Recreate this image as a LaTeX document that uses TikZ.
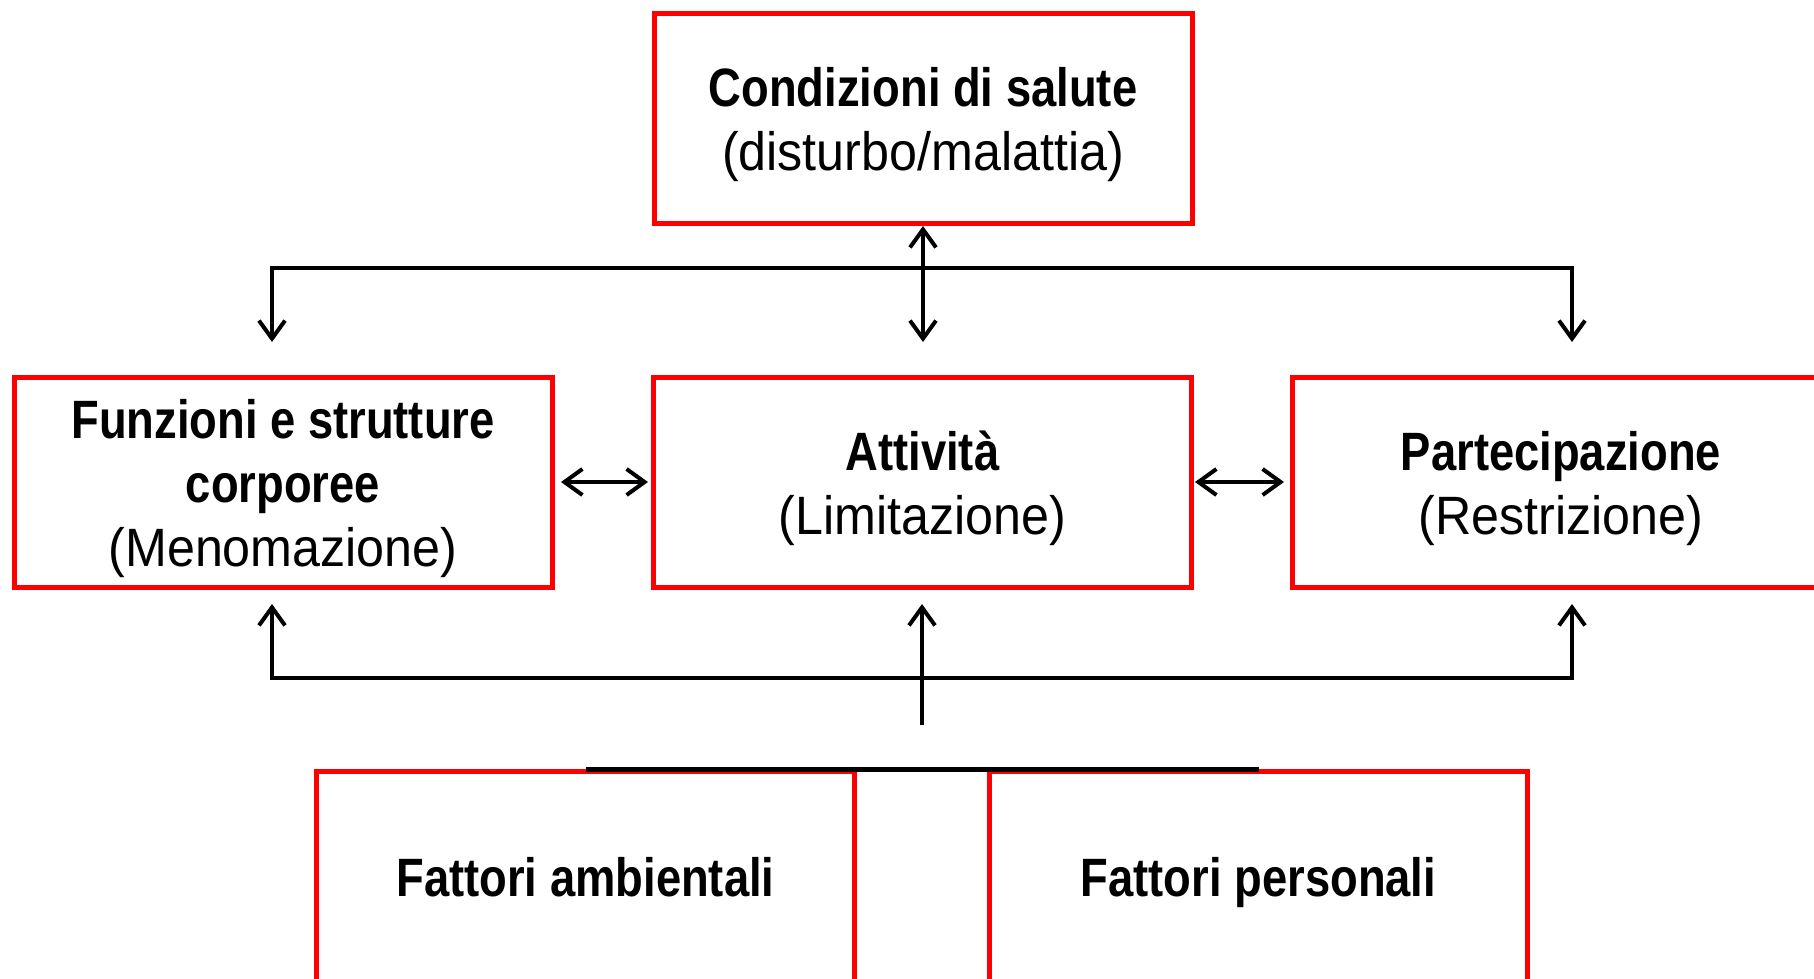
\documentclass[tikz,border=0pt]{standalone}
\usepackage{fontspec}
\setmainfont{Liberation Sans}[FakeStretch=0.93,BoldFeatures={FakeStretch=0.84}]
\usetikzlibrary{arrows.meta,calc}
\newcommand{\topst}{\rule{0pt}{51.5pt}}
\newcommand{\botst}{\rule[-12.5pt]{0pt}{0pt}}
\tikzset{
  box/.style={draw=red,line width=5pt,rectangle,minimum width=538pt,minimum height=210pt,inner sep=0pt,align=center,font=\fontsize{54}{64}\selectfont},
  conn/.style={draw=black,line width=4pt,line join=miter,-,>={Straight Barb[length=18pt,width=26pt,line width=4pt]}}
}
\begin{document}
\begin{tikzpicture}[x=1pt,y=-1pt]
\useasboundingbox (0,0) rectangle (1814,978);
\clip (0,0) rectangle (1814,978);
\node[box] (salute) at (923,118.5) {\topst\textbf{Condizioni di salute}\\(disturbo/malattia)\botst};
\node[box] (funz) at (283,482.5) {\topst\textbf{Funzioni e strutture}\\\textbf{corporee}\\(Menomazione)\botst};
\node[box] (att) at (922.5,482.5) {\topst\textbf{Attività}\\(Limitazione)\botst};
\node[box] (part) at (1561,482.5) {\topst\textbf{Partecipazione}\\(Restrizione)\botst};
\node[box] (amb) at (585.5,876.5) {\topst\textbf{Fattori ambientali}\botst};
\node[box] (pers) at (1258.5,876.5) {\topst\textbf{Fattori personali}\botst};
\draw[line width=5pt,black] (amb.north) -- (pers.north);
% top connector
\coordinate (al) at (272,342);
\coordinate (hl) at (272,268);
\coordinate (hr) at (1572,268);
\coordinate (ar) at (1572,342);
\coordinate (am) at (923,342);
\draw[conn,<->] (al) -- (hl) -- (hr) -- (ar);
\draw[conn,<->] (salute.south) -- (am);
% side arrows
\coordinate (l1) at (561,482);
\coordinate (l2) at (648,482);
\coordinate (r1) at (1195,482);
\coordinate (r2) at (1284,482);
\draw[conn,<->] (l1) -- (l2);
\draw[conn,<->] (r1) -- (r2);
% bottom connector
\coordinate (ul) at (272,604);
\coordinate (bl) at (272,678);
\coordinate (br) at (1572,678);
\coordinate (ur) at (1572,604);
\coordinate (um) at (922,604);
\coordinate (bm) at (922,725);
\draw[conn,<->] (ul) -- (bl) -- (br) -- (ur);
\draw[conn,->] (bm) -- (um);
\end{tikzpicture}
\end{document}
